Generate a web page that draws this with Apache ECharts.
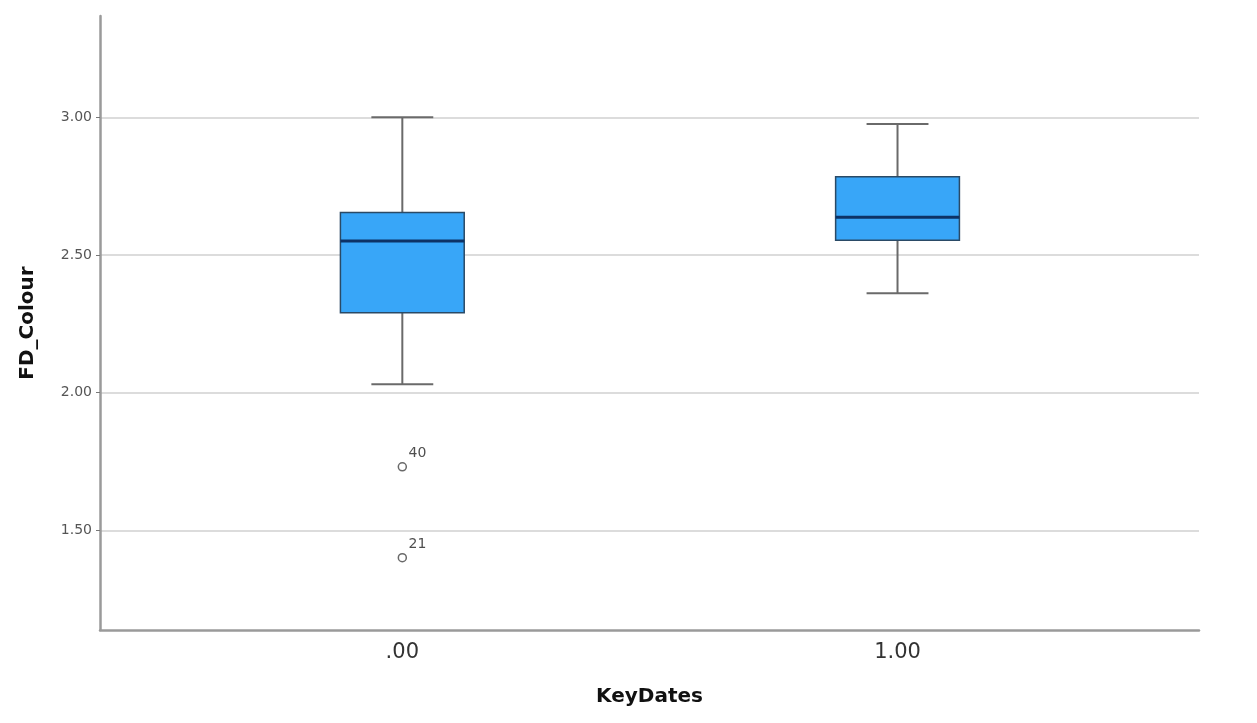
<!DOCTYPE html>
<html>
<head>
<meta charset="utf-8">
<script src="https://cdn.jsdelivr.net/npm/echarts@6/dist/echarts.min.js"></script>
<style>html,body{margin:0;padding:0;background:#fff;}#c{width:1257px;height:723px;}</style>
</head>
<body>
<div id="c"></div>
<script>
var categories = ['.00', '1.00'];
var categoryPos = [0, 1];
var whiskerLow = [2.031, 2.361];
var q1 = [2.290, 2.554];
var median = [2.551, 2.637];
var q3 = [2.654, 2.784];
var whiskerHigh = [3.00, 2.976];
var outlierX = [0, 0];
var outlierY = [1.731, 1.401];
var outlierLabel = ['40', '21'];
var yTicks = [1.5, 2.0, 2.5, 3.0];

var boxData = categoryPos.map(function (x, i) {
  return [x, whiskerLow[i], q1[i], median[i], q3[i], whiskerHigh[i]];
});
var outlierData = outlierX.map(function (x, i) {
  return { value: [x, outlierY[i]], name: outlierLabel[i] };
});

var chart = echarts.init(document.getElementById('c'), null, { renderer: 'canvas' });

function renderBox(params, api) {
  var x = api.value(0);
  var unit = api.size([1, 0])[0];
  var bw = unit * 0.25;
  var cw = unit * 0.125;
  var pLow = api.coord([x, api.value(1)]);
  var pQ1 = api.coord([x, api.value(2)]);
  var pMed = api.coord([x, api.value(3)]);
  var pQ3 = api.coord([x, api.value(4)]);
  var pHigh = api.coord([x, api.value(5)]);
  var cx = pLow[0];
  var whiskerStyle = { stroke: '#6a6a6a', lineWidth: 2 };
  return {
    type: 'group',
    children: [
      { type: 'line', shape: { x1: cx, y1: pHigh[1], x2: cx, y2: pQ3[1] }, style: whiskerStyle },
      { type: 'line', shape: { x1: cx, y1: pQ1[1], x2: cx, y2: pLow[1] }, style: whiskerStyle },
      { type: 'line', shape: { x1: cx - cw / 2, y1: pHigh[1], x2: cx + cw / 2, y2: pHigh[1] }, style: whiskerStyle },
      { type: 'line', shape: { x1: cx - cw / 2, y1: pLow[1], x2: cx + cw / 2, y2: pLow[1] }, style: whiskerStyle },
      { type: 'rect', shape: { x: cx - bw / 2, y: pQ3[1], width: bw, height: pQ1[1] - pQ3[1] },
        style: { fill: '#38a6f8', stroke: '#2a4a66', lineWidth: 1.5 } },
      { type: 'line', shape: { x1: cx - bw / 2, y1: pMed[1], x2: cx + bw / 2, y2: pMed[1] },
        style: { stroke: '#0d3266', lineWidth: 3 } }
    ]
  };
}

var option = {
  backgroundColor: '#ffffff',
  animation: false,
  grid: { left: 100, right: 58, top: 16, bottom: 93 },
  xAxis: {
    type: 'value',
    min: -0.6105,
    max: 1.6088,
    name: 'KeyDates',
    nameLocation: 'middle',
    nameGap: 57,
    nameTextStyle: { fontFamily: 'DejaVu Sans', fontWeight: 'bold', fontSize: 20, color: '#111' },
    axisLine: { show: true, onZero: false, lineStyle: { color: '#9a9a9a', width: 2.5 } },
    axisTick: { show: false },
    splitLine: { show: false },
    axisLabel: {
      customValues: categoryPos,
      margin: 12,
      fontFamily: 'DejaVu Sans',
      fontSize: 21,
      color: '#333',
      formatter: function (v) {
        var i = categoryPos.indexOf(v);
        return i >= 0 ? categories[i] : '';
      }
    }
  },
  yAxis: {
    type: 'value',
    min: 1.1383,
    max: 3.368,
    name: 'FD_Colour',
    nameLocation: 'middle',
    nameGap: 62,
    nameTextStyle: { fontFamily: 'DejaVu Sans', fontWeight: 'bold', fontSize: 20, color: '#111' },
    axisLine: { show: true, onZero: false, lineStyle: { color: '#9a9a9a', width: 2.5 } },
    axisTick: { show: true, customValues: yTicks, length: 4, lineStyle: { color: '#777', width: 1 } },
    splitLine: { show: false },
    axisLabel: {
      customValues: yTicks,
      margin: 8,
      fontFamily: 'DejaVu Sans',
      fontSize: 14,
      color: '#555',
      formatter: function (v) { return v.toFixed(2); }
    }
  },
  series: [
    {
      type: 'custom',
      name: 'grid',
      data: [],
      silent: true,
      z: 0,
      markLine: {
        silent: true,
        z: 0,
        symbol: 'none',
        label: { show: false },
        lineStyle: { color: '#dcdcdc', width: 2, type: 'solid' },
        data: yTicks.map(function (t) { return { yAxis: t }; })
      },
      renderItem: function () { return { type: 'group', children: [] }; }
    },
    {
      type: 'custom',
      name: 'box',
      z: 3,
      data: boxData,
      encode: { x: 0, y: [1, 2, 3, 4, 5] },
      renderItem: renderBox
    },
    {
      type: 'scatter',
      name: 'outliers',
      z: 4,
      data: outlierData,
      symbol: 'circle',
      symbolSize: 8,
      itemStyle: { color: '#ffffff', borderColor: '#444', borderWidth: 1.5 },
      label: {
        show: true,
        formatter: '{b}',
        position: [11, -16],
        fontFamily: 'DejaVu Sans',
        fontSize: 14,
        color: '#222'
      }
    }
  ]
};
chart.setOption(option);
</script>
</body>
</html>
